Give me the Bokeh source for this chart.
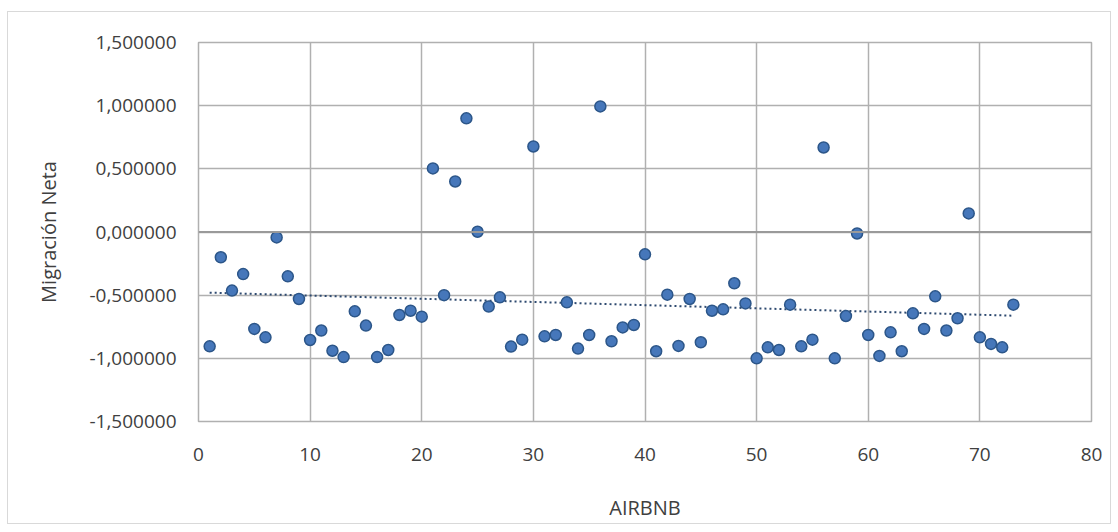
import numpy as np
from bokeh.plotting import figure
from bokeh.models import FixedTicker, Range1d, Span
from bokeh.embed import file_html
from bokeh.resources import INLINE

# ---- data ----
airbnb = list(range(1, 74))
migracion = [
    -0.905, -0.200, -0.464, -0.333, -0.767, -0.834, -0.043, -0.351, -0.530, -0.855,
    -0.780, -0.940, -0.990, -0.628, -0.741, -0.990, -0.934, -0.657, -0.623, -0.670,
    0.503, -0.500, 0.400, 0.900, 0.002, -0.590, -0.517, -0.907, -0.852, 0.677,
    -0.826, -0.815, -0.557, -0.923, -0.815, 0.994, -0.865, -0.755, -0.736, -0.177,
    -0.944, -0.496, -0.902, -0.530, -0.873, -0.623, -0.612, -0.406, -0.565, -1.000,
    -0.913, -0.934, -0.575, -0.905, -0.852, 0.669, -1.000, -0.665, -0.012, -0.815,
    -0.981, -0.794, -0.944, -0.644, -0.767, -0.509, -0.780, -0.683, 0.147, -0.834,
    -0.886, -0.913, -0.575,
]
x_ticks = [0, 10, 20, 30, 40, 50, 60, 70, 80]
y_ticks = [-1.5, -1.0, -0.5, 0.0, 0.5, 1.0, 1.5]
y_tick_labels = ["-1,500000", "-1,000000", "-0,500000", "0,000000",
                 "0,500000", "1,000000", "1,500000"]
x_title = "AIRBNB"
y_title = "Migración Neta"

FONT = "Open Sans"
TXT = "#404040"
GRID = "#B0B0B0"

p = figure(
    frame_width=893, frame_height=379,
    min_border_left=190, min_border_right=19,
    min_border_top=30, min_border_bottom=95,
    x_range=Range1d(0, 80), y_range=Range1d(-1.5, 1.5),
    output_backend="svg", toolbar_location=None,
    background_fill_color="white", border_fill_color="white",
)
p.styles = {"border": "1px solid #D9D9D9", "margin-left": "7px",
            "margin-top": "11px"}

p.xaxis.ticker = FixedTicker(ticks=x_ticks)
p.yaxis.ticker = FixedTicker(ticks=y_ticks)
p.yaxis.major_label_overrides = {t: l for t, l in zip(y_ticks, y_tick_labels)}
p.xaxis.axis_label = x_title
p.yaxis.axis_label = y_title

for ax in (p.xaxis[0], p.yaxis[0]):
    ax.axis_line_color = None
    ax.major_tick_line_color = None
    ax.minor_tick_line_color = None
    ax.major_label_text_font = FONT
    ax.major_label_text_font_size = "19px"
    ax.major_label_text_color = TXT
    ax.axis_label_text_font = FONT
    ax.axis_label_text_font_style = "normal"
    ax.axis_label_text_color = TXT
p.xaxis.axis_label_text_font_size = "20px"
p.yaxis.axis_label_text_font_size = "20px"
p.xaxis.axis_label_text_align = "right"
p.yaxis.major_label_standoff = 16
p.xaxis.major_label_standoff = 20
p.yaxis.axis_label_standoff = 24
p.xaxis.axis_label_standoff = 30

p.xgrid.ticker = FixedTicker(ticks=x_ticks)
p.ygrid.ticker = FixedTicker(ticks=y_ticks)
p.xgrid.grid_line_color = GRID
p.ygrid.grid_line_color = GRID
p.xgrid.grid_line_width = 1.5
p.ygrid.grid_line_width = 1.5
p.outline_line_color = GRID
p.outline_line_width = 1.5
p.add_layout(Span(location=0, dimension="width", line_color="#9A9A9A",
                  line_width=2))

# trend line (least squares over the data)
xa = np.array(airbnb, dtype=float)
ya = np.array(migracion, dtype=float)
m, b = np.polyfit(xa, ya, 1)
tx = [xa.min(), xa.max()]
p.line(tx, [m * t + b for t in tx], line_color="#2E4A70", line_width=2,
       line_dash="2 3")

p.scatter(airbnb, migracion, size=11, fill_color="#4677BA",
          line_color="#2C5689", line_width=1.5)

open("out.html", "w").write(file_html(p, INLINE))
